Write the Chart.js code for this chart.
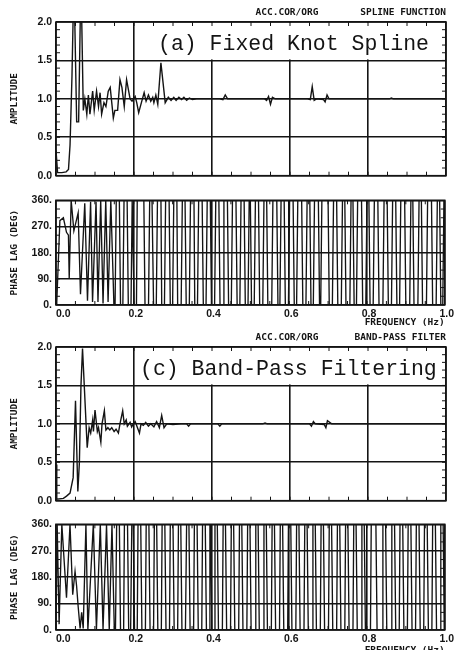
<!DOCTYPE html>
<html>
<head>
<meta charset="utf-8">
<script src="https://cdn.jsdelivr.net/npm/chart.js@4.4.0/dist/chart.umd.min.js"></script>
<style>
  body { margin: 0; background: #fff; width: 455px; height: 650px; position: relative; overflow: hidden; }
  canvas { position: absolute; left: 0; }
</style>
</head>
<body>
<canvas id="ampA" style="top:0" width="455" height="186"></canvas>
<canvas id="phaseA" style="top:190px" width="455" height="140"></canvas>
<canvas id="ampC" style="top:330px" width="455" height="181"></canvas>
<canvas id="phaseC" style="top:514px" width="455" height="146"></canvas>
<script>
// frequency ticks (Hz)
var freqTicks = [0.0, 0.2, 0.4, 0.6, 0.8, 1.0];
var ampTicks = [0.0, 0.5, 1.0, 1.5, 2.0];
var phaseTicks = [0, 90, 180, 270, 360];

// (a) fixed knot spline - amplitude ratio
var ampAFreq = [
  0.000, 0.004, 0.015, 0.026, 0.032, 0.036, 0.041, 0.046, 0.053, 0.058,
  0.064, 0.070, 0.074, 0.079, 0.083, 0.087, 0.094, 0.098, 0.104, 0.109,
  0.113, 0.117, 0.123, 0.128, 0.134, 0.139, 0.147, 0.151, 0.158, 0.164,
  0.169, 0.175, 0.181, 0.190, 0.195, 0.203, 0.207, 0.212, 0.220, 0.226,
  0.231, 0.237, 0.243, 0.248, 0.251, 0.256, 0.261, 0.269, 0.280, 0.288,
  0.295, 0.302, 0.308, 0.315, 0.322, 0.328, 0.335, 0.342, 0.350, 0.360,
  0.420, 0.428, 0.434, 0.440, 0.535, 0.540, 0.545, 0.550, 0.555, 0.562,
  0.645, 0.652, 0.657, 0.662, 0.668, 0.686, 0.690, 0.695, 0.700, 0.855,
  0.860, 0.865, 1.000
];
var ampA = [
  0.33, 0.04, 0.04, 0.05, 0.08, 0.40, 1.30, 2.60, 0.70, 0.70,
  2.60, 0.85, 1.00, 0.80, 1.05, 0.80, 1.10, 0.85, 1.10, 0.90,
  1.08, 0.80, 0.95, 0.90, 1.10, 1.15, 0.75, 0.85, 0.85, 1.25,
  1.15, 0.90, 1.25, 1.00, 0.97, 1.03, 0.95, 0.82, 0.97, 1.08,
  0.97, 1.05, 0.97, 1.02, 0.95, 1.05, 0.93, 1.47, 0.95, 1.02,
  0.98, 1.02, 0.98, 1.02, 0.99, 1.02, 0.98, 1.01, 0.99, 1.00,
  1.00, 0.99, 1.05, 1.00, 1.00, 0.98, 1.03, 0.93, 1.02, 1.00,
  1.00, 0.99, 1.16, 0.98, 1.00, 0.99, 0.96, 1.05, 1.00, 1.00,
  1.01, 1.00, 1.00
];

// (a) phase lag (deg); above ~0.15 Hz each wrap is a near-vertical line
var phaseAFreq = [
  0.000, 0.002, 0.010, 0.019, 0.027, 0.032, 0.034, 0.039, 0.046, 0.057,
  0.063, 0.074, 0.081, 0.089, 0.094, 0.103, 0.108, 0.115, 0.121, 0.128,
  0.134, 0.141, 0.149,
  0.152, 0.155, 0.163, 0.166, 0.172, 0.175, 0.183, 0.186, 0.193, 0.196,
  0.198, 0.201, 0.207, 0.209, 0.226, 0.229, 0.238, 0.241, 0.247, 0.251,
  0.258, 0.261, 0.270, 0.272, 0.279, 0.282, 0.291, 0.294, 0.300, 0.303,
  0.311, 0.313, 0.322, 0.325, 0.332, 0.335, 0.343, 0.346, 0.355, 0.357,
  0.364, 0.367, 0.376, 0.379, 0.386, 0.389, 0.397, 0.400, 0.408, 0.411,
  0.419, 0.422, 0.430, 0.432, 0.441, 0.444, 0.451, 0.454, 0.463, 0.466,
  0.473, 0.476, 0.484, 0.487, 0.494, 0.497, 0.500, 0.503, 0.510, 0.513,
  0.521, 0.524, 0.532, 0.535, 0.542, 0.545, 0.555, 0.558, 0.568, 0.571,
  0.576, 0.579, 0.587, 0.590, 0.598, 0.601, 0.610, 0.613, 0.619, 0.622,
  0.632, 0.635, 0.643, 0.646, 0.653, 0.656, 0.662, 0.665, 0.675, 0.678,
  0.681, 0.684, 0.700, 0.703, 0.711, 0.714, 0.722, 0.725, 0.734, 0.737,
  0.743, 0.746, 0.756, 0.759, 0.764, 0.767, 0.773, 0.776, 0.786, 0.789,
  0.797, 0.800, 0.805, 0.808, 0.816, 0.819, 0.828, 0.831, 0.841, 0.844,
  0.852, 0.855, 0.863, 0.866, 0.874, 0.877, 0.884, 0.887, 0.897, 0.900,
  0.910, 0.913, 0.918, 0.921, 0.931, 0.934, 0.940, 0.943, 0.953, 0.956,
  0.966, 0.969, 0.978, 0.981, 0.987, 0.990, 0.995, 0.998, 1.000
];
var phaseA = [
  0, 10, 290, 300, 250, 240, 90, 360, 255, 317,
  37, 350, 15, 355, 10, 355, 10, 360, 5, 360,
  10, 360, 0,
  0, 360, 360, 0, 0, 360, 360, 0, 0, 360,
  360, 0, 0, 360, 360, 0, 0, 360, 360, 0,
  0, 360, 360, 0, 0, 360, 360, 0, 0, 360,
  360, 0, 0, 360, 360, 0, 0, 360, 360, 0,
  0, 360, 360, 0, 0, 360, 360, 0, 0, 360,
  360, 0, 0, 360, 360, 0, 0, 360, 360, 0,
  0, 360, 360, 0, 0, 360, 360, 0, 0, 360,
  360, 0, 0, 360, 360, 0, 0, 360, 360, 0,
  0, 360, 360, 0, 0, 360, 360, 0, 0, 360,
  360, 0, 0, 360, 360, 0, 0, 360, 360, 0,
  0, 360, 360, 0, 0, 360, 360, 0, 0, 360,
  360, 0, 0, 360, 360, 0, 0, 360, 360, 0,
  0, 360, 360, 0, 0, 360, 360, 0, 0, 360,
  360, 0, 0, 360, 360, 0, 0, 360, 360, 0,
  0, 360, 360, 0, 0, 360, 360, 0, 0, 360,
  360, 0, 0, 360, 360, 0, 0, 360, 360
];

// (c) band-pass filtering - amplitude ratio
var ampCFreq = [
  0.000, 0.002, 0.019, 0.027, 0.036, 0.044, 0.050, 0.056, 0.060, 0.064,
  0.068, 0.080, 0.085, 0.089, 0.094, 0.096, 0.100, 0.106, 0.109, 0.115,
  0.118, 0.124, 0.128, 0.133, 0.138, 0.143, 0.149, 0.154, 0.160, 0.164,
  0.171, 0.175, 0.180, 0.183, 0.190, 0.194, 0.198, 0.203, 0.214, 0.218,
  0.224, 0.230, 0.237, 0.243, 0.251, 0.258, 0.265, 0.271, 0.277, 0.284,
  0.300, 0.320, 0.335, 0.340, 0.345, 0.415, 0.420, 0.425, 0.530, 0.536,
  0.542, 0.650, 0.655, 0.660, 0.665, 0.688, 0.692, 0.696, 0.707, 1.000
];
var ampC = [
  0.47, 0.02, 0.03, 0.06, 0.10, 0.30, 1.30, 0.12, 0.50, 1.50,
  1.98, 0.69, 0.95, 0.88, 1.05, 0.90, 1.18, 0.90, 0.95, 0.76,
  1.00, 1.17, 0.92, 0.95, 0.92, 0.95, 0.90, 0.93, 0.88, 1.00,
  1.17, 1.00, 1.05, 0.97, 1.02, 0.96, 1.00, 1.03, 0.88, 1.00,
  0.98, 1.02, 0.97, 1.00, 0.96, 1.03, 0.95, 1.11, 0.95, 1.00,
  0.99, 1.00, 1.00, 0.97, 1.00, 1.00, 0.97, 1.00, 1.00, 1.01,
  1.00, 1.00, 0.97, 1.03, 1.00, 0.99, 0.95, 1.04, 1.00, 1.00
];

// (c) phase lag (deg)
var phaseCFreq = [
  0.000, 0.003, 0.008, 0.015, 0.027, 0.036, 0.043, 0.049, 0.053, 0.057,
  0.062, 0.066, 0.070, 0.077, 0.082, 0.096, 0.104, 0.114, 0.121, 0.130,
  0.137, 0.144, 0.150,
  0.153, 0.156, 0.163, 0.166, 0.174, 0.176, 0.184, 0.187, 0.192, 0.195,
  0.199, 0.202, 0.209, 0.211, 0.218, 0.221, 0.230, 0.232, 0.239, 0.242,
  0.251, 0.253, 0.259, 0.262, 0.271, 0.273, 0.280, 0.283, 0.292, 0.294,
  0.301, 0.304, 0.313, 0.315, 0.321, 0.324, 0.333, 0.336, 0.342, 0.345,
  0.354, 0.356, 0.363, 0.366, 0.375, 0.377, 0.384, 0.387, 0.394, 0.396,
  0.398, 0.401, 0.407, 0.409, 0.415, 0.418, 0.428, 0.430, 0.436, 0.439,
  0.449, 0.451, 0.457, 0.460, 0.470, 0.472, 0.478, 0.481, 0.491, 0.493,
  0.499, 0.502, 0.512, 0.514, 0.520, 0.523, 0.533, 0.535, 0.541, 0.544,
  0.554, 0.556, 0.562, 0.565, 0.575, 0.577, 0.583, 0.586, 0.596, 0.598,
  0.604, 0.607, 0.617, 0.619, 0.625, 0.628, 0.638, 0.640, 0.646, 0.649,
  0.659, 0.661, 0.667, 0.670, 0.680, 0.682, 0.688, 0.691, 0.701, 0.703,
  0.709, 0.712, 0.722, 0.724, 0.730, 0.733, 0.743, 0.745, 0.751, 0.754,
  0.764, 0.766, 0.772, 0.775, 0.785, 0.787, 0.793, 0.796, 0.809, 0.811,
  0.823, 0.826, 0.839, 0.841, 0.848, 0.851, 0.862, 0.864, 0.871, 0.874,
  0.883, 0.885, 0.892, 0.895, 0.904, 0.906, 0.913, 0.916, 0.925, 0.927,
  0.934, 0.937, 0.946, 0.948, 0.955, 0.958, 0.967, 0.969, 0.976, 0.979,
  0.988, 0.990, 0.996, 0.999, 1.000
];
var phaseC = [
  0, 360, 20, 360, 110, 360, 120, 200, 150, 80,
  5, 60, 5, 360, 0, 360, 2, 360, 3, 358,
  0, 360, 0,
  0, 360, 360, 0, 0, 360, 360, 0, 0, 360,
  360, 0, 0, 360, 360, 0, 0, 360, 360, 0,
  0, 360, 360, 0, 0, 360, 360, 0, 0, 360,
  360, 0, 0, 360, 360, 0, 0, 360, 360, 0,
  0, 360, 360, 0, 0, 360, 360, 0, 0, 360,
  360, 0, 0, 360, 360, 0, 0, 360, 360, 0,
  0, 360, 360, 0, 0, 360, 360, 0, 0, 360,
  360, 0, 0, 360, 360, 0, 0, 360, 360, 0,
  0, 360, 360, 0, 0, 360, 360, 0, 0, 360,
  360, 0, 0, 360, 360, 0, 0, 360, 360, 0,
  0, 360, 360, 0, 0, 360, 360, 0, 0, 360,
  360, 0, 0, 360, 360, 0, 0, 360, 360, 0,
  0, 360, 360, 0, 0, 360, 360, 0, 0, 360,
  360, 0, 0, 360, 360, 0, 0, 360, 360, 0,
  0, 360, 360, 0, 0, 360, 360, 0, 0, 360,
  360, 0, 0, 360, 360, 0, 0, 360, 360, 0,
  0, 360, 360, 0, 0
];

var INK = '#141414';
var tickFont = { family: 'Liberation Sans', size: 10.5, weight: 'bold' };
var labelFont = { family: 'DejaVu Sans Mono', size: 9.5, weight: 'bold' };

// border, inward minor ticks, header texts and the caption box
var plotDecor = {
  id: 'plotDecor',
  beforeDatasetsDraw: function (chart, args, opts) {
    if (!opts.box) return;
    var ctx = chart.ctx, a = chart.chartArea;
    var yBot = chart.scales.y.getPixelForValue(1.5);
    ctx.save();
    ctx.fillStyle = '#fff';
    ctx.fillRect(opts.box.left, a.top + 1, a.right - 1 - opts.box.left, yBot - a.top - 2);
    ctx.fillStyle = INK;
    ctx.font = '21.5px "Liberation Mono"';
    ctx.textBaseline = 'alphabetic';
    ctx.fillText(opts.box.text, opts.box.textX, opts.box.baseline);
    ctx.restore();
  },
  afterDatasetsDraw: function (chart, args, opts) {
    var ctx = chart.ctx, a = chart.chartArea;
    var xs = chart.scales.x, ys = chart.scales.y;
    ctx.save();
    ctx.strokeStyle = INK;
    ctx.lineWidth = 1.6;
    ctx.strokeRect(a.left, a.top, a.right - a.left, a.bottom - a.top);
    ctx.lineWidth = 1;
    ctx.beginPath();
    for (var i = 1; i < 20; i++) {
      var px = xs.getPixelForValue(i * 0.05);
      ctx.moveTo(px, a.bottom); ctx.lineTo(px, a.bottom - 4);
      ctx.moveTo(px, a.top); ctx.lineTo(px, a.top + 4);
    }
    for (var v = opts.minorY; v < ys.max; v += opts.minorY) {
      var py = ys.getPixelForValue(v);
      ctx.moveTo(a.right, py); ctx.lineTo(a.right - 4, py);
      ctx.moveTo(a.left, py); ctx.lineTo(a.left + 4, py);
    }
    ctx.stroke();
    ctx.restore();
  },
  afterDraw: function (chart, args, opts) {
    if (!opts.headers) return;
    var ctx = chart.ctx;
    ctx.save();
    ctx.fillStyle = INK;
    ctx.font = 'bold 9.5px "DejaVu Sans Mono"';
    ctx.textBaseline = 'middle';
    opts.headers.forEach(function (h) {
      ctx.textAlign = h.align;
      ctx.fillText(h.text, h.x, opts.headerY);
    });
    ctx.restore();
  }
};

function makePanel(id, freq, vals, p) {
  var pts = freq.map(function (f, i) { return { x: f, y: vals[i] }; });
  var isPhase = p.kind === 'phase';
  var yTicks = isPhase ? phaseTicks : ampTicks;
  return new Chart(document.getElementById(id), {
    type: 'line',
    data: {
      datasets: [{
        data: pts,
        borderColor: INK,
        borderWidth: isPhase ? 1.35 : 1.4,
        pointRadius: 0,
        tension: 0
      }]
    },
    options: {
      responsive: false,
      animation: false,
      devicePixelRatio: 1,
      layout: { padding: { top: p.padTop, right: 9, bottom: p.padBottom, left: 0 } },
      plugins: {
        legend: { display: false },
        tooltip: { enabled: false },
        plotDecor: {
          box: p.box,
          headers: p.headers,
          headerY: p.headerY,
          minorY: isPhase ? 30 : 0.1
        }
      },
      scales: {
        x: {
          type: 'linear',
          min: 0,
          max: 1,
          afterBuildTicks: function (s) {
            s.ticks = freqTicks.map(function (v) { return { value: v }; });
          },
          grid: { color: INK, lineWidth: 1.6, drawTicks: false },
          border: { display: false },
          ticks: {
            display: isPhase,
            autoSkip: false,
            maxRotation: 0,
            padding: 3,
            labelOffset: 2,
            color: INK,
            font: tickFont,
            callback: function (v) { return v === 0 ? '\u2002\u20020.0' : v.toFixed(1); }
          },
          title: {
            display: isPhase,
            text: 'FREQUENCY (Hz)',
            align: 'end',
            color: INK,
            font: labelFont,
            padding: { top: 0, bottom: p.titlePad }
          },
          afterFit: function (s) { s.height = p.xHeight; }
        },
        y: {
          min: yTicks[0],
          max: yTicks[yTicks.length - 1],
          afterBuildTicks: function (s) {
            s.ticks = yTicks.map(function (v) { return { value: v }; });
          },
          grid: { color: INK, lineWidth: 1.6, drawTicks: false },
          border: { display: false },
          ticks: {
            padding: 4,
            color: INK,
            font: tickFont,
            callback: function (v) { return isPhase ? v + '.' : v.toFixed(1); }
          },
          title: {
            display: true,
            text: isPhase ? 'PHASE LAG (DEG)' : 'AMPLITUDE',
            color: INK,
            font: labelFont,
            padding: { top: 9, bottom: 0 }
          },
          afterFit: function (s) { s.width = 56; }
        }
      }
    },
    plugins: [plotDecor]
  });
}

makePanel('ampA', ampAFreq, ampA, {
  kind: 'amp', padTop: 22, padBottom: 3, xHeight: 0, titlePad: 0,
  headerY: 13,
  headers: [
    { text: 'ACC.COR/ORG', x: 287, align: 'center' },
    { text: 'SPLINE FUNCTION', x: 446, align: 'right' }
  ],
  box: { text: '(a) Fixed Knot Spline', left: 150, textX: 158, baseline: 50 }
});

makePanel('phaseA', phaseAFreq, phaseA, {
  kind: 'phase', padTop: 8, padBottom: 0, xHeight: 25, titlePad: 1.5
});

makePanel('ampC', ampCFreq, ampC, {
  kind: 'amp', padTop: 17, padBottom: 3, xHeight: 0, titlePad: 0,
  headerY: 8,
  headers: [
    { text: 'ACC.COR/ORG', x: 287, align: 'center' },
    { text: 'BAND-PASS FILTER', x: 446, align: 'right' }
  ],
  box: { text: '(c) Band-Pass Filtering', left: 136, textX: 140, baseline: 45 }
});

makePanel('phaseC', phaseCFreq, phaseC, {
  kind: 'phase', padTop: 8, padBottom: 0, xHeight: 30, titlePad: 4
});
</script>
</body>
</html>
